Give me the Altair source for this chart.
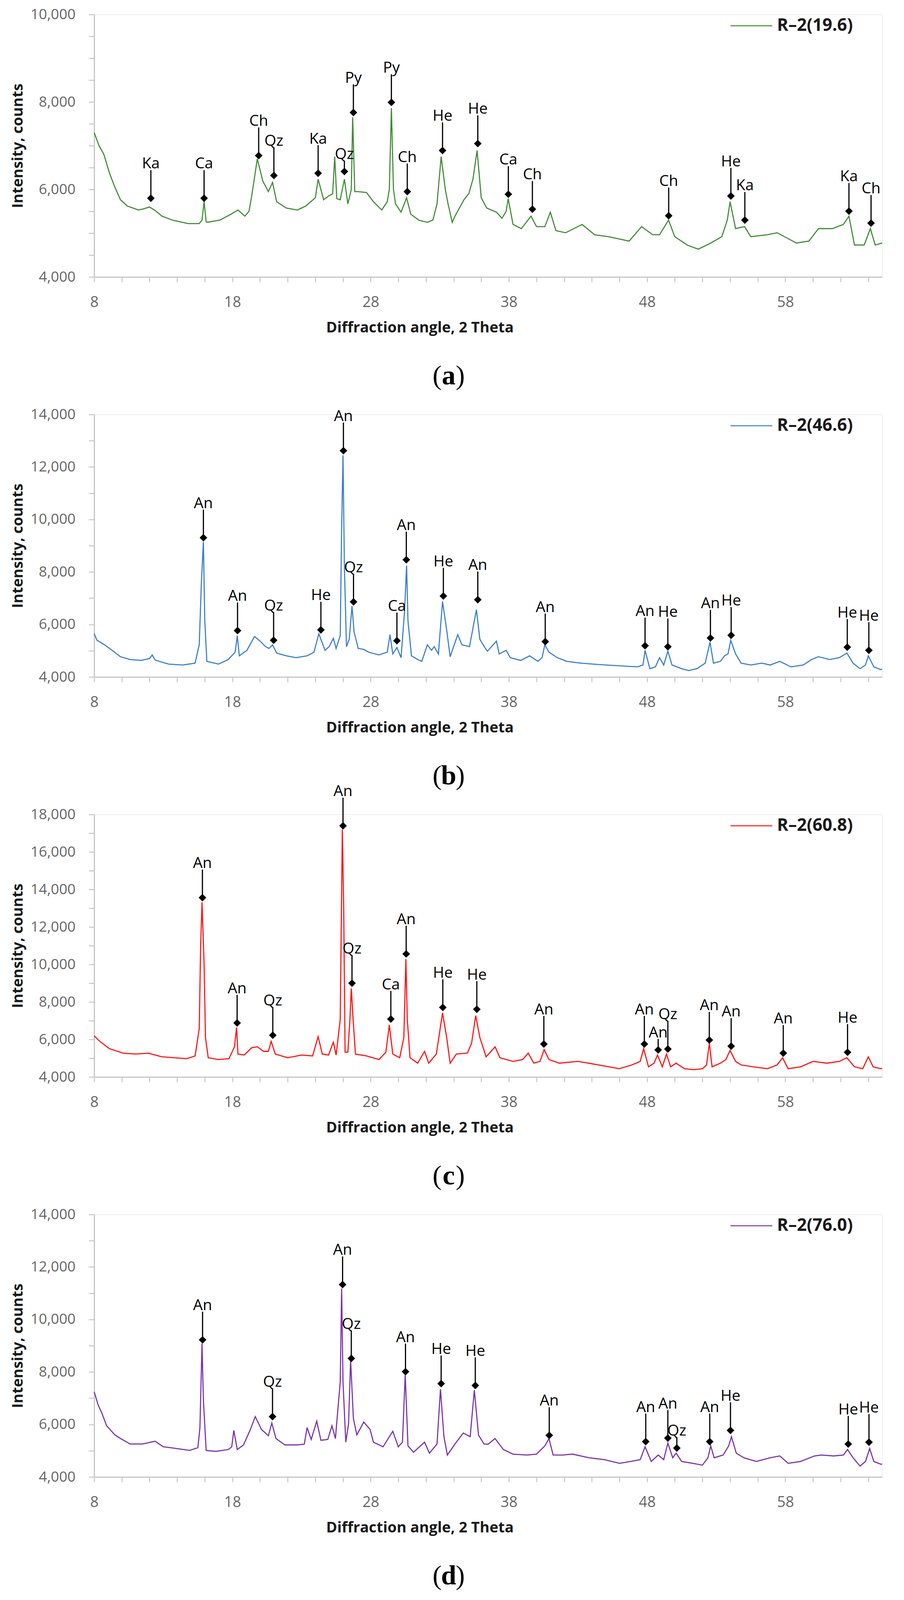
import altair as alt
import pandas as pd

# ── series (2θ in degrees / intensity in counts) ──
SERIES = ["R–2(19.6)", "R–2(46.6)", "R–2(60.8)", "R–2(76.0)"]
CAPTIONS = ["a", "b", "c", "d"]
COLOURS = ["#3E8B33", "#3A7DCB", "#FF1010", "#7A30A8"]
Y_MAX = [10000, 14000, 18000, 14000]
Y_STEP = [500, 1000, 1000, 1000]

A_X = [8.0, 8.35, 8.7, 9.1, 9.5, 9.9, 10.4, 11.2, 11.6, 12.0, 12.4, 12.9, 13.7, 14.8, 15.6, 15.8,
       15.95, 16.1, 16.2, 17.1, 17.9, 18.4, 18.9, 19.2, 19.4, 19.8, 20.2, 20.6, 20.9, 21.2, 21.9,
       22.7, 23.3, 24.0, 24.2, 24.6, 25.0, 25.25, 25.4, 25.55, 25.8, 26.1, 26.35, 26.6, 26.7, 26.85,
       27.1, 27.7, 28.2, 28.8, 29.2, 29.35, 29.5, 29.65, 29.8, 30.2, 30.6, 30.9, 31.5, 32.1, 32.5,
       32.8, 33.1, 33.4, 33.6, 33.9, 34.1, 34.75, 35.1, 35.4, 35.7, 36.0, 36.4, 37.1, 37.5, 37.8,
       37.95, 38.3, 38.9, 39.6, 40.0, 40.6, 41.0, 41.4, 42.1, 43.3, 44.2, 45.2, 46.7, 47.6, 48.4,
       48.9, 49.55, 50.0, 50.9, 51.7, 52.6, 53.4, 53.8, 54.0, 54.4, 55.05, 55.5, 56.7, 57.4, 58.8,
       59.7, 60.4, 61.4, 62.2, 62.6, 63.0, 63.7, 64.15, 64.5, 65.0]
A_Y = [7300, 7000, 6800, 6380, 6050, 5765, 5620, 5530, 5560, 5600, 5520, 5390, 5295, 5220, 5220, 5300,
       5720, 5260, 5250, 5300, 5435, 5530, 5390, 5500, 5860, 6700, 6190, 5950, 6160, 5720, 5575,
       5530, 5620, 5810, 6235, 5765, 5860, 5900, 6750, 5790, 5765, 6235, 5670, 6000, 7650, 5950,
       5950, 5930, 5720, 5530, 5720, 6000, 7860, 6000, 5670, 5480, 5810, 5435, 5295, 5250, 5300,
       5670, 6750, 6000, 5670, 5250, 5390, 5765, 5905, 6235, 6890, 5810, 5575, 5480, 5340, 5500,
       5790, 5200, 5105, 5390, 5150, 5150, 5480, 5060, 5010, 5200, 4965, 4920, 4820, 5150, 4965,
       4965, 5300, 4920, 4730, 4635, 4775, 4920, 5300, 5720, 5105, 5150, 4920, 4965, 5010, 4775,
       4820, 5105, 5105, 5200, 5390, 4730, 4730, 5105, 4730, 4775]
A_LBL = ["Ka", "Ca", "Ch", "Qz", "Ka", "Qz", "Py", "Py", "Ch", "He", "He", "Ca", "Ch", "Ch", "He",
         "Ka", "Ka", "Ch"]
A_LX = [12.1, 15.95, 19.9, 21.0, 24.2, 26.1, 26.75, 29.5, 30.65, 33.2, 35.75, 37.96, 39.7, 49.56,
        54.06, 55.07, 62.6, 64.2]
A_LY = [5800, 5800, 6775, 6320, 6370, 6410, 7760, 7990, 5950, 6890, 7050, 5890, 5550, 5400, 5850,
        5300, 5505, 5230]

B_X = [8.0, 8.2, 8.75, 9.3, 9.9, 10.6, 11.4, 12.0, 12.2, 12.4, 12.7, 13.4, 14.4, 15.3, 15.6, 15.75,
       15.9, 16.0, 16.15, 17.0, 17.7, 18.2, 18.35, 18.5, 19.05, 19.6, 20.0, 20.4, 20.65, 20.9, 21.2,
       21.9, 22.6, 23.4, 23.9, 24.25, 24.7, 25.0, 25.3, 25.5, 25.8, 25.9, 26.0, 26.1, 26.25, 26.45,
       26.65, 26.8, 27.1, 27.5, 27.85, 28.6, 29.2, 29.4, 29.6, 29.9, 30.2, 30.45, 30.6, 30.7, 30.95,
       31.4, 31.7, 32.1, 32.4, 32.6, 32.9, 33.2, 33.5, 33.75, 34.3, 34.6, 35.15, 35.4, 35.65, 35.9,
       36.3, 36.45, 37.1, 37.3, 37.8, 38.1, 38.85, 39.5, 40.1, 40.4, 40.6, 40.9, 41.5, 42.2, 43.2,
       44.1, 45.0, 46.2, 47.3, 47.7, 47.85, 48.2, 48.6, 48.9, 49.2, 49.5, 49.8, 50.5, 51.0, 51.6,
       52.2, 52.55, 52.8, 53.3, 53.6, 53.85, 54.05, 54.4, 54.8, 55.5, 56.3, 56.9, 57.6, 58.4, 59.3,
       59.9, 60.4, 61.2, 61.9, 62.45, 62.9, 63.4, 63.8, 64.0, 64.4, 64.9, 65.0]
B_Y = [5650, 5400, 5225, 5015, 4770, 4665, 4630, 4700, 4840, 4650, 4595, 4490, 4455, 4525, 5225, 7540,
       9150, 6140, 4595, 4490, 4665, 4945, 5577, 4805, 5015, 5540, 5365, 5155, 5085, 5225, 4910,
       4805, 4735, 4805, 4945, 5647, 5015, 5155, 5470, 5085, 5577, 9640, 12445, 8240, 5155, 5435,
       6700, 5717, 5085, 5050, 4945, 4840, 4945, 5610, 4875, 5120, 4735, 6490, 8240, 6140, 4805,
       4665, 4595, 5225, 5015, 5155, 4875, 6870, 5787, 4770, 5610, 5225, 5155, 5857, 6560, 5435,
       5085, 4980, 5365, 4875, 5015, 4735, 4630, 4805, 4595, 4735, 5225, 4945, 4735, 4595, 4525,
       4490, 4455, 4420, 4385, 4455, 5015, 4315, 4385, 4735, 4455, 4980, 4455, 4315, 4245, 4315,
       4525, 5330, 4525, 4595, 4805, 4875, 5400, 4875, 4525, 4455, 4525, 4455, 4595, 4385, 4455,
       4665, 4770, 4665, 4735, 4910, 4525, 4315, 4455, 4805, 4385, 4280, 4300]
B_LBL = ["An", "An", "Qz", "He", "An", "Qz", "Ca", "An", "He", "An", "An", "An", "He", "An", "He",
         "He", "He"]
B_LX = [15.9, 18.37, 20.98, 24.4, 26.03, 26.76, 29.9, 30.58, 33.26, 35.75, 40.63, 47.85, 49.5,
        52.58, 54.08, 62.48, 64.04]
B_LY = [9305, 5766, 5400, 5794, 12620, 6860, 5380, 8464, 7083, 6944, 5345, 5190, 5155, 5485, 5590,
        5135, 5015]

C_X = [8.0, 8.4, 9.1, 10.1, 11.0, 11.9, 12.9, 13.8, 14.7, 15.3, 15.6, 15.7, 15.8, 15.95, 16.05, 16.25,
       17.0, 17.75, 18.15, 18.3, 18.4, 18.85, 19.4, 19.8, 20.25, 20.6, 20.8, 21.1, 22.0, 23.0, 23.8,
       24.2, 24.5, 24.95, 25.3, 25.5, 25.8, 25.95, 26.05, 26.15, 26.35, 26.5, 26.6, 26.73, 26.9,
       27.7, 28.6, 29.1, 29.35, 29.6, 30.1, 30.4, 30.55, 30.65, 30.85, 31.4, 31.9, 32.2, 32.75,
       33.2, 33.5, 33.75, 34.2, 35.0, 35.3, 35.6, 35.9, 36.35, 37.0, 37.35, 38.3, 39.0, 39.4, 39.8,
       40.25, 40.55, 40.9, 41.65, 43.0, 44.5, 46.0, 46.9, 47.5, 47.75, 48.1, 48.5, 48.75, 49.1,
       49.4, 49.7, 50.1, 50.7, 51.4, 52.0, 52.3, 52.5, 52.7, 53.3, 53.7, 54.0, 54.4, 54.8, 55.7,
       56.7, 57.4, 57.8, 58.2, 59.1, 60.0, 61.0, 61.9, 62.45, 63.0, 63.6, 64.0, 64.35, 64.9, 65.0]
C_Y = [6195, 5900, 5510, 5270, 5220, 5270, 5075, 5025, 4975, 5120, 6585, 10975, 13315, 10000, 6100, 5025,
       4930, 4975, 5610, 6635, 5220, 5170, 5560, 5610, 5365, 5365, 5900, 5220, 5025, 5170, 5120,
       6150, 5220, 5170, 5850, 5170, 7075, 17200, 13000, 5320, 5320, 7075, 8730, 7075, 5220,
       5120, 4930, 5320, 6780, 5220, 5025, 6100, 10290, 7075, 5025, 4735, 5365, 4735, 5220,
       7415, 6100, 4735, 5220, 5270, 5800, 7270, 6100, 5075, 5610, 5025, 4830, 4930, 5270, 4735,
       4830, 5460, 4930, 4735, 4830, 4640, 4440, 4640, 4830, 5510, 4540, 4735, 5170, 4540,
       5220, 4540, 4735, 4440, 4390, 4440, 4640, 5800, 4540, 4735, 4930, 5415, 4830, 4640, 4540,
       4440, 4640, 5025, 4440, 4540, 4830, 4735, 4830, 5025, 4540, 4440, 5075, 4540, 4440, 4450]
C_LBL = ["An", "An", "Qz", "An", "Qz", "Ca", "An", "He", "He", "An", "An", "An", "Qz", "An", "An",
         "An", "He"]
C_LX = [15.83, 18.34, 20.92, 26.0, 26.65, 29.46, 30.57, 33.22, 35.68, 40.53, 47.8, 48.8, 49.5, 52.5,
        54.08, 57.85, 62.5]
C_LY = [13560, 6880, 6225, 17395, 9000, 7090, 10565, 7710, 7610, 5755, 5755, 5445, 5490, 5970, 5640,
        5270, 5320]

D_X = [8.0, 8.3, 8.55, 8.9, 9.5, 9.9, 10.6, 11.5, 12.4, 13.0, 14.0, 14.9, 15.5, 15.65, 15.8, 15.9,
       16.1, 16.8, 17.7, 17.95, 18.1, 18.35, 18.8, 19.3, 19.65, 20.1, 20.6, 20.85, 21.15, 21.8, 22.7,
       23.2, 23.4, 23.7, 24.1, 24.4, 24.9, 25.2, 25.45, 25.8, 25.9, 26.0, 26.2, 26.4, 26.55, 26.75,
       27.0, 27.5, 27.96, 28.2, 28.9, 29.6, 30.0, 30.3, 30.5, 30.7, 31.1, 31.9, 32.25, 32.8, 33.05,
       33.3, 33.55, 34.1, 34.7, 35.2, 35.5, 35.8, 36.2, 36.5, 37.0, 37.6, 38.3, 39.3, 40.0, 40.6,
       40.9, 41.2, 41.9, 42.6, 43.8, 44.9, 46.0, 46.8, 47.5, 47.85, 48.3, 48.8, 49.2, 49.5, 49.85,
       50.1, 50.5, 51.3, 52.0, 52.4, 52.6, 52.85, 53.5, 53.9, 54.1, 54.45, 55.0, 55.9, 56.9, 57.6,
       58.2, 59.1, 60.1, 60.6, 61.5, 62.2, 62.5, 62.9, 63.4, 63.8, 64.1, 64.4, 64.9, 65.0]
D_Y = [7240, 6720, 6440, 5950, 5600, 5465, 5255, 5255, 5360, 5150, 5080, 5010, 5115, 5880, 9085, 6930,
       5010, 4975, 5045, 5150, 5775, 5045, 5220, 5810, 6300, 5810, 5570, 6055, 5465, 5220, 5220,
       5250, 5880, 5430, 6125, 5395, 5430, 5950, 5465, 7625, 11180, 7625, 5325, 6020, 8460, 6230,
       5600, 6090, 5810, 5325, 5150, 5740, 5150, 5325, 7905, 5185, 4940, 5325, 4905, 5255, 7345,
       5535, 4835, 5255, 5675, 5535, 7310, 5600, 5255, 5250, 5465, 5045, 4870, 4835, 4870, 5185,
       5465, 4835, 4835, 4870, 4730, 4660, 4520, 4590, 4660, 5150, 4590, 4835, 4660, 5290, 4730,
       4905, 4590, 4520, 4450, 4730, 5185, 4730, 4835, 5185, 5535, 4905, 4730, 4590, 4730, 4800,
       4520, 4590, 4800, 4835, 4800, 4835, 5045, 4730, 4415, 4590, 5080, 4590, 4485, 4490]
D_LBL = ["An", "Qz", "An", "Qz", "An", "He", "He", "An", "An", "An", "Qz", "An", "He", "He", "He"]
D_LX = [15.84, 20.9, 25.97, 26.6, 30.52, 33.1, 35.57, 40.92, 47.9, 49.5, 50.15, 52.53, 54.03, 62.55,
        64.05]
D_LY = [9225, 6300, 11330, 8515, 8010, 7555, 7485, 5585, 5345, 5480, 5100, 5345, 5775, 5255, 5325]

# ── layout / style ────────────────────────────────────────────────
# The photographed page is a little shorter than the reference, so the
# vertical pitch is squeezed (~0.92) to keep the last caption in view.
W, H = 2016, 672
PANEL_GAP = 352
Y_MIN = 4000
X_DOMAIN = [8, 65]
STEM = 72        # px, marker-to-label leader
SHORT_STEM = 28  # a few labels sit low to dodge a neighbour
SHORT = {("a", 26.1), ("c", 48.8), ("d", 50.15)}
SANS = "Open Sans"
AXIS_GREY = "#C6C6C6"
LABEL_GREY = "#666666"


def x_axis():
    return alt.Axis(
        values=list(range(8, 65, 2)),
        labelExpr="(datum.value - 8) % 10 === 0 ? datum.label : ''",
        format="d", grid=False,
        domainColor=AXIS_GREY, domainWidth=3, tickColor=AXIS_GREY, tickWidth=2.5, tickSize=13,
        labelFont=SANS, labelFontSize=38, labelColor=LABEL_GREY, labelPadding=33,
        labelOverlap=False, labelFlush=False,
        title="Diffraction angle, 2 Theta", titleFont=SANS, titleFontSize=38,
        titleFontWeight="bold", titleColor="#1A1A1A",
        titleX=833, titleY=130, titleBaseline="middle", titleAlign="center",
    )


def y_axis(ymax, step):
    return alt.Axis(
        values=list(range(Y_MIN, ymax + 1, step)),
        labelExpr="datum.value % 2000 === 0 ? datum.label : ''",
        format=",d", grid=False,
        domainColor=AXIS_GREY, domainWidth=3, tickColor=AXIS_GREY, tickWidth=2.5, tickSize=14,
        labelFont=SANS, labelFontSize=37, labelColor=LABEL_GREY, labelPadding=34,
        labelOverlap=False, labelFlush=False,
        title="Intensity, counts", titleFont=SANS, titleFontSize=38,
        titleFontWeight="bold", titleColor="#1A1A1A",
        titleX=-195, titleY=H / 2, titleBaseline="middle", titleAlign="center", titleAngle=-90,
    )


def panel(key, name, colour, xs, ys, lbl, lx, ly, ymax, step):
    span = ymax - Y_MIN
    xscale = alt.Scale(domain=X_DOMAIN, nice=False, zero=False)
    yscale = alt.Scale(domain=[Y_MIN, ymax], nice=False, zero=False)

    trace = pd.DataFrame({"theta": xs, "counts": ys})
    stems = [SHORT_STEM if (key, x) in SHORT else STEM for x in lx]
    ann = pd.DataFrame({
        "phase": lbl, "theta": lx, "counts": ly,
        "top": [y + s * span / H for y, s in zip(ly, stems)],
    })

    line = alt.Chart(trace).mark_line(color=colour, strokeWidth=2.8).encode(
        x=alt.X("theta:Q", scale=xscale, axis=x_axis()),
        y=alt.Y("counts:Q", scale=yscale, axis=y_axis(ymax, step)),
    )
    leader = alt.Chart(ann).mark_rule(color="black", strokeWidth=3).encode(
        x=alt.X("theta:Q", scale=xscale),
        y=alt.Y("counts:Q", scale=yscale),
        y2="top:Q",
    )
    marker = alt.Chart(ann).mark_point(shape="diamond", filled=True, color="black",
                                       size=380, opacity=1).encode(
        x=alt.X("theta:Q", scale=xscale),
        y=alt.Y("counts:Q", scale=yscale),
    )
    tag = alt.Chart(ann).mark_text(font=SANS, fontSize=39, color="black",
                                   baseline="alphabetic", dy=-4).encode(
        x=alt.X("theta:Q", scale=xscale),
        y=alt.Y("top:Q", scale=yscale),
        text="phase:N",
    )

    # in-plot legend, top right
    key_df = pd.DataFrame({"series": [name]})
    key_line = alt.Chart(key_df).mark_rule(color=colour, strokeWidth=2.5).encode(
        x=alt.value(1628), x2=alt.value(1735), y=alt.value(29)
    )
    key_text = alt.Chart(key_df).mark_text(font=SANS, fontSize=44, fontWeight="bold",
                                           align="left", baseline="middle",
                                           color="#1A1A1A").encode(
        x=alt.value(1747), y=alt.value(29), text="series:N"
    )

    # (a) caption under the panel: normal parentheses, bold letter
    cap_y = H + 254
    cap_df = pd.DataFrame({"o": ["("], "l": [key], "c": [")"]})
    cap = [
        alt.Chart(cap_df).mark_text(font="Liberation Serif", fontSize=70, align="right",
                                    baseline="middle", color="black").encode(
            x=alt.value(889), y=alt.value(cap_y), text="o:N"),
        alt.Chart(cap_df).mark_text(font="Liberation Serif", fontSize=70, fontWeight="bold",
                                    align="center", baseline="middle", color="black").encode(
            x=alt.value(907), y=alt.value(cap_y), text="l:N"),
        alt.Chart(cap_df).mark_text(font="Liberation Serif", fontSize=70, align="left",
                                    baseline="middle", color="black").encode(
            x=alt.value(925), y=alt.value(cap_y), text="c:N"),
    ]

    return alt.layer(line, leader, marker, tag, key_line, key_text, *cap).properties(
        width=W, height=H
    )


charts = [
    panel("a", SERIES[0], COLOURS[0], A_X, A_Y, A_LBL, A_LX, A_LY, Y_MAX[0], Y_STEP[0]),
    panel("b", SERIES[1], COLOURS[1], B_X, B_Y, B_LBL, B_LX, B_LY, Y_MAX[1], Y_STEP[1]),
    panel("c", SERIES[2], COLOURS[2], C_X, C_Y, C_LBL, C_LX, C_LY, Y_MAX[2], Y_STEP[2]),
    panel("d", SERIES[3], COLOURS[3], D_X, D_Y, D_LBL, D_LX, D_LY, Y_MAX[3], Y_STEP[3]),
]

# flush bounds keep the plot areas on a fixed pitch regardless of axis furniture
chart = (
    alt.vconcat(*charts, spacing=PANEL_GAP, bounds="flush")
    .properties(padding={"left": 18, "top": 9, "right": 5, "bottom": 10})
    .configure_view(stroke=None)
    .configure(background="white")
)

chart.save("out.html", embed_options={"renderer": "svg", "actions": False})
